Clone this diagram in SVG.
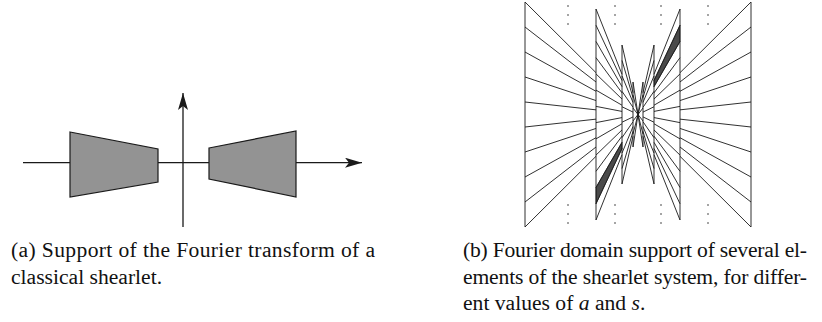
<svg xmlns="http://www.w3.org/2000/svg" xmlns:xlink="http://www.w3.org/1999/xlink" width="822" height="322" viewBox="0 0 822 322">
<style>
.ax{stroke:#1a1a1a;stroke-width:1.3;fill:none}
.trap{fill:#939393;stroke:#1a1a1a;stroke-width:1.2;stroke-linejoin:miter}
.ln{stroke:#1a1a1a;stroke-width:0.9;fill:none}
.dark{fill:#4a4a4a;stroke:#1a1a1a;stroke-width:0.6}
.dot{fill:#333}
.cap{font-family:"Liberation Serif","Times New Roman",serif;font-size:21.6px;fill:#111}
</style>
<defs>
<marker id="arr" markerUnits="userSpaceOnUse" viewBox="0 0 17 10" refX="17" refY="5" markerWidth="17" markerHeight="10" orient="auto">
<path d="M0,0 L17,5 L0,10 L4,5 Z" fill="#1a1a1a"/>
</marker>
<g id="half">
<polygon class="dark" points="596,187.54 622,142.33 622,148.51 596,203.77"/>
<path class="ln" d="M525,2V227M596,9V220M622,45V184M633,82V147"/>
<path class="ln" d="M525,2L596,72.69M525,27L596,81.98M525,52L596,91.27M525,77L596,100.56M525,102L596,109.85M525,127L596,119.15M525,152L596,128.44M525,177L596,137.73M525,202L596,147.02M525,227L596,156.31"/>
<path class="ln" d="M596,9L622,74.31M596,25.23L622,80.49M596,41.46L622,86.67M596,57.69L622,92.86M596,73.92L622,99.04M596,90.15L622,105.22M596,106.38L622,111.41M596,122.62L622,117.59M596,138.85L622,123.78M596,155.08L622,129.96M596,171.31L622,136.14M596,187.54L622,142.33M596,203.77L622,148.51M596,220L622,154.69"/>
<path class="ln" d="M622,45L633,92.78M622,60.44L633,97.61M622,75.89L633,102.43M622,91.33L633,107.26M622,106.78L633,112.09M622,122.22L633,116.91M622,137.67L633,121.74M622,153.11L633,126.57M622,168.56L633,131.39M622,184L633,136.22"/>
<path class="ln" d="M633,82L638,114.5M633,95L638,114.5M633,108L638,114.5M633,121L638,114.5M633,134L638,114.5M633,147L638,114.5"/>
<g class="dot">
<circle cx="568" cy="6" r="0.8"/><circle cx="568" cy="15" r="0.8"/><circle cx="568" cy="24" r="0.8"/>
<circle cx="615" cy="6" r="0.8"/><circle cx="615" cy="15" r="0.8"/><circle cx="615" cy="24" r="0.8"/>
<circle cx="568" cy="205" r="0.8"/><circle cx="568" cy="214" r="0.8"/><circle cx="568" cy="223" r="0.8"/>
<circle cx="615" cy="205" r="0.8"/><circle cx="615" cy="214" r="0.8"/><circle cx="615" cy="223" r="0.8"/>
</g>
</g>
</defs>
<rect width="822" height="322" fill="#ffffff"/>
<g id="diagram-a">
<polygon class="trap" points="70,132 158,149 158,182 70,197"/>
<polygon class="trap" points="209,148 296,131 296,197 209,179"/>
<path class="ax" d="M23,162.7H70M158,162.7H209M296,162.7H362" marker-end="url(#arr)"/>
<path class="ax" d="M183,227V93" marker-end="url(#arr)"/>
</g>
<g id="diagram-b">
<use xlink:href="#half" href="#half"/>
<use xlink:href="#half" href="#half" transform="rotate(180 638 114.5)"/>
</g>
<g id="captions">
<text class="cap" x="11" y="257" textLength="364" lengthAdjust="spacing">(a) Support of the Fourier transform of a</text>
<text class="cap" x="11" y="283.5">classical shearlet.</text>
<text class="cap" x="463" y="257" textLength="344" lengthAdjust="spacing">(b) Fourier domain support of several el-</text>
<text class="cap" x="463" y="283.5" textLength="344" lengthAdjust="spacing">ements of the shearlet system, for differ-</text>
<text class="cap" x="463" y="310">ent values of <tspan font-style="italic">a</tspan> and <tspan font-style="italic">s</tspan>.</text>
</g>
</svg>
